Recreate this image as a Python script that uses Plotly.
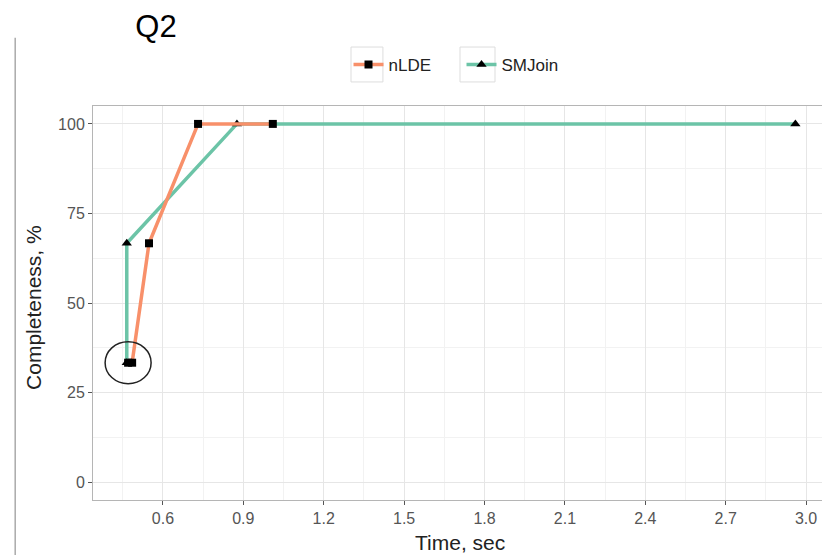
import plotly.graph_objects as go

# Data
nlde_time = [0.470, 0.485, 0.548, 0.731, 1.010]
nlde_completeness = [33.33, 33.33, 66.67, 100, 100]

smjoin_time = [0.465, 0.465, 0.876, 2.960]
smjoin_completeness = [33.33, 66.67, 100, 100]

x_ticks = [0.6, 0.9, 1.2, 1.5, 1.8, 2.1, 2.4, 2.7, 3.0]
x_tick_labels = ["0.6", "0.9", "1.2", "1.5", "1.8", "2.1", "2.4", "2.7", "3.0"]
y_ticks = [0, 25, 50, 75, 100]
y_tick_labels = ["0", "25", "50", "75", "100"]

FONT = "Liberation Sans, Arial, sans-serif"
ORANGE = "#F8906A"
GREEN = "#6CC4A7"

# the page body has an 8px margin, so the figure is shifted by that amount
W, H = 822, 547

fig = go.Figure()

fig.add_trace(go.Scatter(
    x=smjoin_time, y=smjoin_completeness, name="SMJoin", mode="lines+markers",
    line=dict(color=GREEN, width=3.5),
    marker=dict(symbol="triangle-up", size=9, color="black"),
    legendrank=2,
))
fig.add_trace(go.Scatter(
    x=nlde_time, y=nlde_completeness, name="nLDE", mode="lines+markers",
    line=dict(color=ORANGE, width=3.5),
    marker=dict(symbol="square", size=8, color="black"),
    legendrank=1,
))

# circle highlighting the first results
fig.add_shape(type="circle", xref="x", yref="y",
              xsizemode="pixel", ysizemode="pixel",
              xanchor=nlde_time[0], yanchor=nlde_completeness[0],
              x0=-23, x1=23, y0=-21, y1=21,
              line=dict(color="#222222", width=1.5))

# slide frame line at the far left
fig.add_shape(type="line", xref="paper", yref="paper",
              x0=-0.106, x1=-0.106, y0=-0.15, y1=1.173,
              line=dict(color="#aaaaaa", width=1.5))

# faint boxes around the legend keys (ggplot style)
for bx0, bx1 in [(0.3515, 0.395), (0.500, 0.5477)]:
    fig.add_shape(type="rect", xref="paper", yref="paper",
                  x0=bx0, x1=bx1, y0=1.061, y1=1.1497,
                  line=dict(color="#dddddd", width=1), layer="below")

axis_common = dict(
    showline=True, mirror=True, linecolor="#b5b5b5", linewidth=1,
    ticks="outside", ticklen=4, tickcolor="#555555", tickwidth=1,
    gridcolor="#e6e6e6", gridwidth=1, zeroline=False, automargin=False,
    tickfont=dict(family=FONT, size=16, color="#555555"),
)

fig.update_xaxes(
    range=[0.339, 3.078], tickvals=x_ticks, ticktext=x_tick_labels,
    minor=dict(dtick=0.15, tick0=0.0, showgrid=True, gridcolor="#f2f2f2", gridwidth=1),
    **axis_common,
)
fig.update_yaxes(
    range=[-5, 105], tickvals=y_ticks, ticktext=y_tick_labels,
    minor=dict(dtick=12.5, tick0=0, showgrid=True, gridcolor="#f2f2f2", gridwidth=1),
    **axis_common,
)

# axis titles
fig.add_annotation(text="Time, sec", xref="paper", yref="paper",
                   x=0.5, y=-0.1066, xanchor="center", yanchor="middle",
                   showarrow=False, font=dict(family=FONT, size=21, color="#222222"))
fig.add_annotation(text="Completeness, %", xref="paper", yref="paper",
                   x=-0.0804, y=0.49, xanchor="center", yanchor="middle", textangle=-90,
                   showarrow=False, font=dict(family=FONT, size=21, color="#222222"))

fig.update_layout(
    width=W, height=H,
    margin=dict(l=85, r=3, t=98, b=55),
    paper_bgcolor="white", plot_bgcolor="white",
    title=dict(text="Q2", x=(156 - 8) / W, xanchor="center", xref="container",
               y=1 - (26 - 8) / H, yanchor="middle", yref="container",
               font=dict(family=FONT, size=31, color="black")),
    legend=dict(orientation="h", x=0.3481, xanchor="left", y=1.104, yanchor="middle",
                entrywidth=68, entrywidthmode="pixels",
                font=dict(family=FONT, size=17, color="#222222"),
                bgcolor="rgba(0,0,0,0)"),
    showlegend=True,
)

fig.write_html("out.html")
